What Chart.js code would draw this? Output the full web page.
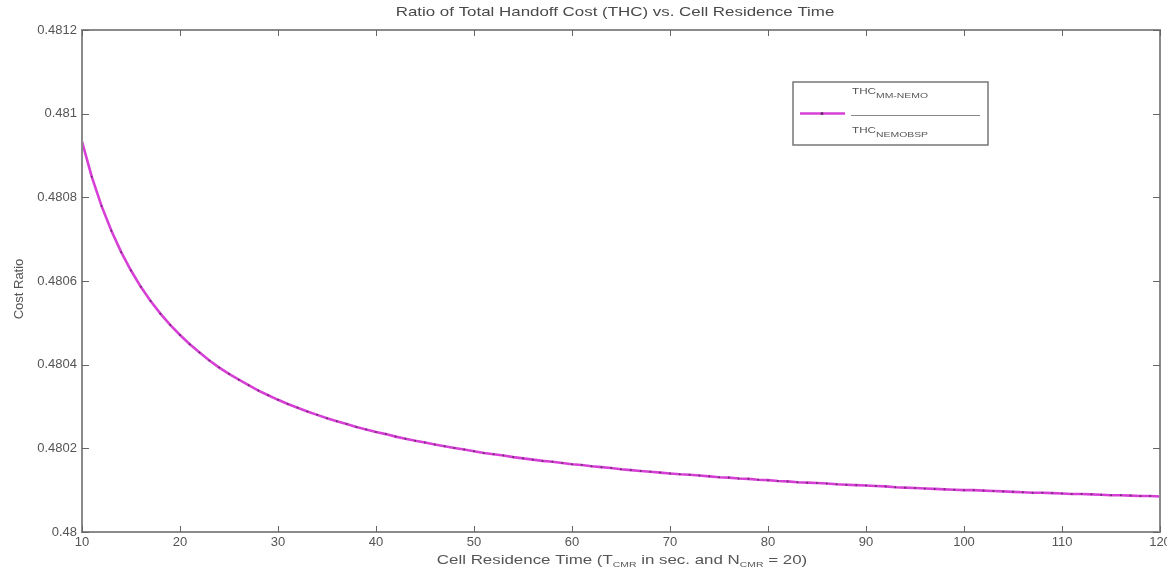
<!DOCTYPE html>
<html>
<head>
<meta charset="utf-8">
<script src="https://cdn.jsdelivr.net/npm/chart.js@4"></script>
<style>
  html, body { margin: 0; padding: 0; background: #fff; }
  #wrap { width: 1167px; height: 575px; }
</style>
</head>
<body>
<div id="wrap"><canvas id="ratio-chart" width="1167" height="575"></canvas></div>
<script>
// residence time (sec) and cost ratio
const residenceTime = [];
for (let t = 10; t <= 120; t++) residenceTime.push(t);

const costRatio = [
  0.480933, 0.480849, 0.480779, 0.480720, 0.480669, 0.480625, 0.480586, 0.480552, 0.480522, 0.480495,
  0.480471, 0.480449, 0.480429, 0.480410, 0.480393, 0.480378, 0.480364, 0.480351, 0.480338, 0.480327,
  0.480316, 0.480306, 0.480297, 0.480288, 0.480280, 0.480272, 0.480265, 0.480258, 0.480251, 0.480245,
  0.480239, 0.480234, 0.480228, 0.480223, 0.480218, 0.480214, 0.480209, 0.480205, 0.480201, 0.480197,
  0.480193, 0.480189, 0.480186, 0.480183, 0.480179, 0.480176, 0.480173, 0.480170, 0.480168, 0.480165,
  0.480162, 0.480160, 0.480157, 0.480155, 0.480153, 0.480150, 0.480148, 0.480146, 0.480144, 0.480142,
  0.480140, 0.480138, 0.480137, 0.480135, 0.480133, 0.480131, 0.480130, 0.480128, 0.480127, 0.480125,
  0.480124, 0.480122, 0.480121, 0.480119, 0.480118, 0.480117, 0.480116, 0.480114, 0.480113, 0.480112,
  0.480111, 0.480110, 0.480109, 0.480107, 0.480106, 0.480105, 0.480104, 0.480103, 0.480102, 0.480101,
  0.480100, 0.480100, 0.480099, 0.480098, 0.480097, 0.480096, 0.480095, 0.480094, 0.480094, 0.480093,
  0.480092, 0.480091, 0.480091, 0.480090, 0.480089, 0.480088, 0.480088, 0.480087, 0.480086, 0.480086,
  0.480085
];

const xTicks = [10, 20, 30, 40, 50, 60, 70, 80, 90, 100, 110, 120];
const yTicks = [0.48, 0.4802, 0.4804, 0.4806, 0.4808, 0.481, 0.4812];

const FONT = '"Liberation Sans", Arial, sans-serif';
const TEXT_COLOR = '#555';
const LINE_COLOR = '#d640d6';
const DOT_COLOR = '#6a2a6a';
const STRETCH = 1.3; // the reference text is wide, like a stretched screenshot

// text pieces: [base, subscript]; drawn left to right, stretched horizontally
function textWidth(ctx, parts, size, subSize) {
  let w = 0;
  parts.forEach(p => {
    ctx.font = size + 'px ' + FONT; w += ctx.measureText(p[0]).width;
    if (p[1]) { ctx.font = subSize + 'px ' + FONT; w += ctx.measureText(p[1]).width; }
  });
  return w * STRETCH;
}

function drawParts(ctx, x, y, parts, size, subSize) {
  ctx.save();
  ctx.translate(x, y);
  ctx.scale(STRETCH, 1);
  ctx.textAlign = 'left';
  ctx.textBaseline = 'middle';
  let cx = 0;
  parts.forEach(p => {
    ctx.font = size + 'px ' + FONT;
    ctx.fillText(p[0], cx, 0);
    cx += ctx.measureText(p[0]).width;
    if (p[1]) {
      ctx.font = subSize + 'px ' + FONT;
      ctx.fillText(p[1], cx, size * 0.4);
      cx += ctx.measureText(p[1]).width;
    }
  });
  ctx.restore();
}

// MATLAB style: box, inward ticks, title, labels and legend
const matlabFrame = {
  id: 'matlabFrame',
  afterDraw(chart) {
    const ctx = chart.ctx;
    const a = chart.chartArea;
    const xs = chart.scales.x, ys = chart.scales.y;
    ctx.save();

    ctx.strokeStyle = '#8a8a8a';
    ctx.lineWidth = 2;
    ctx.strokeRect(a.left, a.top, a.right - a.left, a.bottom - a.top);

    ctx.lineWidth = 1;
    ctx.strokeStyle = '#666';
    ctx.beginPath();
    xTicks.forEach(v => {
      const px = Math.round(xs.getPixelForValue(v)) + 0.5;
      ctx.moveTo(px, a.bottom); ctx.lineTo(px, a.bottom - 6);
      ctx.moveTo(px, a.top); ctx.lineTo(px, a.top + 6);
    });
    yTicks.forEach(v => {
      const py = Math.round(ys.getPixelForValue(v)) + 0.5;
      ctx.moveTo(a.left, py); ctx.lineTo(a.left + 7, py);
      ctx.moveTo(a.right, py); ctx.lineTo(a.right - 7, py);
    });
    ctx.stroke();

    // title
    ctx.fillStyle = '#4a4a4a';
    const title = [['Ratio of Total Handoff Cost (THC) vs. Cell Residence Time', '']];
    drawParts(ctx, 615 - textWidth(ctx, title, 13, 8) / 2, 12, title, 13, 8);

    // y label
    ctx.fillStyle = TEXT_COLOR;
    ctx.save();
    ctx.translate(19, 289);
    ctx.rotate(-Math.PI / 2);
    ctx.textAlign = 'center';
    ctx.textBaseline = 'middle';
    ctx.font = '13px ' + FONT;
    ctx.fillText('Cost Ratio', 0, 0);
    ctx.restore();

    // x label with subscripts
    const xLabel = [['Cell Residence Time (T', 'CMR'], [' in sec. and N', 'CMR'], [' = 20)', '']];
    drawParts(ctx, 622 - textWidth(ctx, xLabel, 13, 8) / 2, 560, xLabel, 13, 8);

    // legend box
    const lx = 793, ly = 82, lw = 195, lh = 63;
    ctx.fillStyle = '#fff';
    ctx.fillRect(lx, ly, lw, lh);
    ctx.strokeStyle = '#777';
    ctx.lineWidth = 1.5;
    ctx.strokeRect(lx, ly, lw, lh);
    ctx.strokeStyle = LINE_COLOR;
    ctx.lineWidth = 2.5;
    ctx.beginPath(); ctx.moveTo(800, 113.5); ctx.lineTo(845, 113.5); ctx.stroke();
    ctx.fillStyle = DOT_COLOR;
    ctx.beginPath(); ctx.arc(822, 113.5, 1.5, 0, Math.PI * 2); ctx.fill();
    ctx.strokeStyle = '#888';
    ctx.lineWidth = 1;
    ctx.beginPath(); ctx.moveTo(851, 115.5); ctx.lineTo(980, 115.5); ctx.stroke();
    ctx.fillStyle = TEXT_COLOR;
    drawParts(ctx, 852, 92, [['THC', 'MM-NEMO']], 9, 8);
    drawParts(ctx, 852, 131, [['THC', 'NEMOBSP']], 9, 8);

    ctx.restore();
  }
};

new Chart(document.getElementById('ratio-chart'), {
  type: 'line',
  data: {
    labels: residenceTime,
    datasets: [{
      data: residenceTime.map((t, i) => ({ x: t, y: costRatio[i] })),
      borderColor: LINE_COLOR,
      borderWidth: 2.6,
      pointRadius: 1,
      pointBackgroundColor: DOT_COLOR,
      pointBorderWidth: 0,
      tension: 0,
      fill: false
    }]
  },
  options: {
    responsive: false,
    animation: false,
    layout: { padding: { top: 30, right: 7, left: 0, bottom: 0 } },
    plugins: { legend: { display: false }, tooltip: { enabled: false } },
    scales: {
      x: {
        type: 'linear',
        min: 10,
        max: 120,
        afterFit: s => { s.height = 43; s.paddingLeft = 0; s.paddingRight = 0; },
        afterBuildTicks: s => { s.ticks = xTicks.map(v => ({ value: v })); },
        grid: { display: false, drawTicks: false },
        border: { display: false },
        ticks: { color: TEXT_COLOR, font: { family: FONT, size: 13 }, padding: 3, maxRotation: 0 }
      },
      y: {
        min: 0.48,
        max: 0.4812,
        afterFit: s => { s.width = 82; s.paddingTop = 0; s.paddingBottom = 0; },
        afterBuildTicks: s => { s.ticks = yTicks.map(v => ({ value: v })); },
        grid: { display: false, drawTicks: false },
        border: { display: false },
        ticks: {
          color: TEXT_COLOR,
          font: { family: FONT, size: 13 },
          padding: 5,
          callback: v => String(Number(v.toFixed(4)))
        }
      }
    }
  },
  plugins: [matlabFrame]
});
</script>
</body>
</html>
